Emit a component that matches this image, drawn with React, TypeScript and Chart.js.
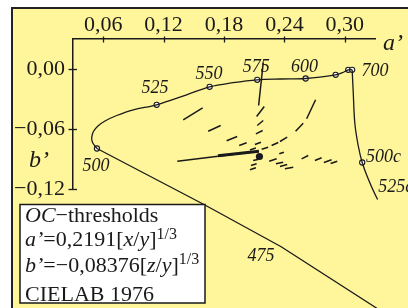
import React, { useEffect, useRef } from 'react';
import { Chart, registerables } from 'chart.js';

Chart.register(...registerables);

// axis ticks
const xTicks = [0.06, 0.12, 0.18, 0.24, 0.3];
const yTicks = [0, -0.06, -0.12];

// spectral locus, short-wave part (beyond 475 nm up to 500 nm)
const locusLowA = [0.3547, 0.3322, 0.2368, 0.1601, 0.0538];
const locusLowB = [-0.2545, -0.2395, -0.1778, -0.1355, -0.0795];

// spectral locus, 500 nm to 700 nm
const locusUpA = [0.0538, 0.0494, 0.0486, 0.0503, 0.0548, 0.0618, 0.0734, 0.0899, 0.1131, 0.1429, 0.1657, 0.1889, 0.213, 0.2365, 0.2611, 0.2909, 0.2981, 0.3034, 0.3073];
const locusUpB = [-0.0795, -0.0735, -0.0685, -0.0625, -0.057, -0.052, -0.0465, -0.0408, -0.0358, -0.0258, -0.0178, -0.0137, -0.0108, -0.01, -0.0095, -0.0058, -0.0035, -0.0008, -0.0008];

// compensatory (c) locus from 700 nm downwards
const compA = [0.3073, 0.3083, 0.31, 0.3133, 0.3173, 0.3232, 0.3326, 0.3475, 0.3597, 0.3746];
const compB = [-0.0008, -0.0215, -0.0548, -0.0765, -0.0935, -0.1098, -0.1305, -0.1562, -0.1715, -0.1895];

// open circle markers
const markerNames = ['500', '525', '550', '575', '600', '650', '700', '700', '500c', '525c', '550c', '475'];
const markerA = [0.0538, 0.1131, 0.1657, 0.213, 0.2611, 0.2909, 0.3034, 0.3073, 0.3173, 0.3326, 0.3475, 0.2368];
const markerB = [-0.0795, -0.0358, -0.0178, -0.0108, -0.0095, -0.0058, -0.0008, -0.0008, -0.0935, -0.1305, -0.1562, -0.1778];

// labelled markers (index into marker arrays)
const labelIndex = [0, 1, 2, 3, 4, 7, 8, 9, 11];

// threshold line from 575 marker
const line575A = [0.219, 0.2144];
const line575B = [0.0065, -0.0365];

// thick threshold line
const thinA = [0.1336, 0.2147];
const thinB = [-0.0922, -0.0822];
const thickA = [0.174, 0.2147];
const thickB = [-0.0868, -0.0822];

// centre dot
const dotA = [0.2152];
const dotB = [-0.0875];

// short threshold dashes: [a1, b1, a2, b2]
const dashSegs: number[][] = [
  [0.1395, -0.0508, 0.1588, -0.0388],
  [0.1643, -0.0622, 0.1767, -0.0565],
  [0.1826, -0.0718, 0.1931, -0.0675],
  [0.1951, -0.0765, 0.2025, -0.0738],
  [0.2058, -0.081, 0.2117, -0.079],
  [0.2124, -0.0475, 0.22, -0.0375],
  [0.213, -0.0565, 0.219, -0.0515],
  [0.2117, -0.0648, 0.2184, -0.0615],
  [0.2107, -0.0755, 0.2167, -0.0732],
  [0.2621, -0.0498, 0.271, -0.0308],
  [0.2511, -0.0622, 0.2587, -0.0542],
  [0.2356, -0.0725, 0.2428, -0.0682],
  [0.2273, -0.0765, 0.2339, -0.0735],
  [0.2174, -0.0802, 0.2239, -0.0782],
  [0.2349, -0.0848, 0.2395, -0.0832],
  [0.2249, -0.0922, 0.2323, -0.0898],
  [0.2316, -0.0948, 0.2388, -0.0932],
  [0.2356, -0.0975, 0.2428, -0.0955],
  [0.2405, -0.0998, 0.2488, -0.0982],
  [0.2571, -0.0898, 0.2637, -0.0865],
  [0.2703, -0.0915, 0.277, -0.0888],
  [0.2792, -0.0935, 0.2869, -0.0908],
  [0.2859, -0.0945, 0.2925, -0.0922],
  [0.209, -0.0915, 0.2144, -0.0902],
  [0.2068, -0.0965, 0.2124, -0.0948],
  [0.2058, -0.1008, 0.2117, -0.0988],
];

// styling of labels: [dx, dy, align]
const labelStyle: [number, number, CanvasTextAlign][] = [
  [-1, 22.5, 'center'],
  [-1.7, -11.6, 'center'],
  [-0.7, -8, 'center'],
  [-1, -8.3, 'center'],
  [-1.2, -7, 'center'],
  [9.4, 5.7, 'left'],
  [3.7, -0.5, 'left'],
  [0.6, -7.5, 'left'],
  [-20.3, 13.7, 'center'],
];

const SERIF = '"Liberation Serif", "Times New Roman", serif';
const INK = '#1a1a1a';
const YELLOW = '#fff59a';

const fmt = (v: number) => {
  const s = Math.abs(v).toFixed(2).replace('.', ',');
  return (v < -1e-9 ? '\u2212' : '') + s;
};

const pts = (a: number[], b: number[]) => a.map((v, i) => ({ x: v, y: b[i] }));

function drawRuns(ctx: CanvasRenderingContext2D, x: number, y: number, runs: [string, string, number][]) {
  let cx = x;
  for (const [t, f, dy] of runs) {
    ctx.font = f;
    ctx.fillText(t, cx, y + dy);
    cx += ctx.measureText(t).width;
  }
}

export default function App() {
  const ref = useRef<HTMLCanvasElement>(null);

  useEffect(() => {
    const canvas = ref.current;
    if (!canvas) return;

    const dashData: { x: number; y: number | null }[] = [];
    dashSegs.forEach(([a1, b1, a2, b2]) => {
      dashData.push({ x: a1, y: b1 }, { x: a2, y: b2 }, { x: a2, y: null });
    });

    const lineDs = (data: any, width: number, tension = 0) => ({
      data,
      showLine: true,
      borderColor: INK,
      borderWidth: width,
      pointRadius: 0,
      pointHoverRadius: 0,
      tension,
      clip: false as any,
      spanGaps: false,
    });

    const bgPlugin = {
      id: 'bg',
      beforeDraw(chart: any) {
        const c = chart.ctx as CanvasRenderingContext2D;
        c.save();
        c.fillStyle = '#ffffff';
        c.fillRect(0, 0, chart.width, chart.height);
        c.fillStyle = '#222';
        c.fillRect(11, 7, chart.width, chart.height);
        c.fillStyle = YELLOW;
        c.fillRect(13, 9, chart.width, chart.height);
        c.restore();
      },
    };

    const overlayPlugin = {
      id: 'overlay',
      afterDatasetsDraw(chart: any) {
        const c = chart.ctx as CanvasRenderingContext2D;
        const xs = chart.scales.x;
        const ys = chart.scales.y;
        const area = chart.chartArea;
        c.save();
        // crossing tick marks
        c.strokeStyle = INK;
        c.lineWidth = 1.3;
        xTicks.forEach((v) => {
          const px = Math.round(xs.getPixelForValue(v)) + 0.5;
          c.beginPath();
          c.moveTo(px, area.top - 2.5);
          c.lineTo(px, area.top + 3.5);
          c.stroke();
        });
        yTicks.forEach((v) => {
          const py = Math.round(ys.getPixelForValue(v)) + 0.5;
          c.beginPath();
          c.moveTo(area.left - 4.5, py);
          c.lineTo(area.left + 4, py);
          c.stroke();
        });

        // axis titles
        c.fillStyle = INK;
        c.textAlign = 'left';
        c.textBaseline = 'alphabetic';
        c.font = `italic 24px ${SERIF}`;
        c.fillText('a\u2019', area.right + 8, area.top + 11);
        c.fillText('b\u2019', 29, 166.5);

        // marker labels
        c.font = `italic 18px ${SERIF}`;
        labelIndex.forEach((idx, i) => {
          const [dx, dy, al] = labelStyle[i];
          const px = xs.getPixelForValue(markerA[idx]);
          const py = ys.getPixelForValue(markerB[idx]);
          c.textAlign = al;
          c.fillText(markerNames[idx], px + dx, py + dy);
        });

        // info box
        c.fillStyle = '#ffffff';
        c.fillRect(20, 204.5, 185, 98.5);
        c.strokeStyle = INK;
        c.lineWidth = 1.5;
        c.strokeRect(20, 204.5, 185, 98.5);
        c.fillStyle = INK;
        c.textAlign = 'left';
        const it = `italic 22px ${SERIF}`;
        const rm = `22px ${SERIF}`;
        const sm = `16px ${SERIF}`;
        drawRuns(c, 25, 222, [['OC', it, 0], ['\u2212thresholds', rm, 0]]);
        drawRuns(c, 25, 246, [
          ['a\u2019', it, 0], ['=0,2191[', rm, 0], ['x', it, 0], ['/', rm, 0], ['y', it, 0], [']', rm, 0], ['1/3', sm, -7],
        ]);
        drawRuns(c, 25, 272, [
          ['b\u2019', it, 0], ['=\u22120,08376[', rm, 0], ['z', it, 0], ['/', rm, 0], ['y', it, 0], [']', rm, 0], ['1/3', sm, -8],
        ]);
        drawRuns(c, 25, 300.5, [['CIELAB 1976', rm, 0]]);
        c.restore();
      },
    };

    const chart = new Chart(canvas, {
      type: 'scatter',
      data: {
        datasets: [
          lineDs(pts(locusLowA, locusLowB), 1.3, 0),
          lineDs(pts(locusUpA, locusUpB), 1.3, 0.35),
          lineDs(pts(compA, compB), 1.3, 0.35),
          lineDs(pts(line575A, line575B), 1.5, 0),
          lineDs(pts(thinA, thinB), 1.6, 0),
          lineDs(pts(thickA, thickB), 3, 0),
          lineDs(dashData, 1.5, 0),
          {
            data: pts(dotA, dotB),
            showLine: false,
            pointRadius: 3.6,
            pointBackgroundColor: INK,
            pointBorderColor: INK,
            pointBorderWidth: 0,
            clip: false as any,
          },
          {
            data: pts(markerA, markerB),
            showLine: false,
            pointRadius: 2.6,
            pointBackgroundColor: '#ffffff',
            pointBorderColor: INK,
            pointBorderWidth: 1.1,
            clip: false as any,
          },
        ] as any,
      },
      options: {
        animation: false,
        responsive: false,
        devicePixelRatio: 1,
        events: [],
        layout: { padding: { left: 0, top: 0, right: 33, bottom: 119 } },
        plugins: { legend: { display: false }, tooltip: { enabled: false } },
        scales: {
          x: {
            type: 'linear',
            position: 'top',
            min: 0.03,
            max: 0.33,
            afterFit: (s: any) => { s.height = 39; },
            afterBuildTicks: (s: any) => { s.ticks = xTicks.map((v) => ({ value: v })); },
            grid: { display: true, drawOnChartArea: false, drawTicks: false },
            border: { display: true, color: INK, width: 1.5 },
            ticks: {
              color: INK,
              padding: 1,
              maxRotation: 0,
              autoSkip: false,
              font: { family: SERIF, size: 22 },
              callback: (v: any) => fmt(Number(v)),
            },
          },
          y: {
            type: 'linear',
            position: 'left',
            min: -0.12,
            max: 0.03,
            afterFit: (s: any) => { s.width = 73; },
            afterBuildTicks: (s: any) => { s.ticks = yTicks.map((v) => ({ value: v })); },
            grid: { display: true, drawOnChartArea: false, drawTicks: false },
            border: { display: true, color: INK, width: 1.5 },
            ticks: {
              color: INK,
              padding: 8,
              autoSkip: false,
              font: { family: SERIF, size: 22 },
              callback: (v: any) => fmt(Number(v)),
            },
          },
        },
      } as any,
      plugins: [bgPlugin, overlayPlugin],
    });

    return () => chart.destroy();
  }, []);

  return (
    <div style={{ position: 'fixed', left: 0, top: 0, width: 408, height: 308, overflow: 'hidden' }}>
      <canvas ref={ref} width={408} height={308} style={{ width: 408, height: 308, display: 'block' }} />
    </div>
  );
}
